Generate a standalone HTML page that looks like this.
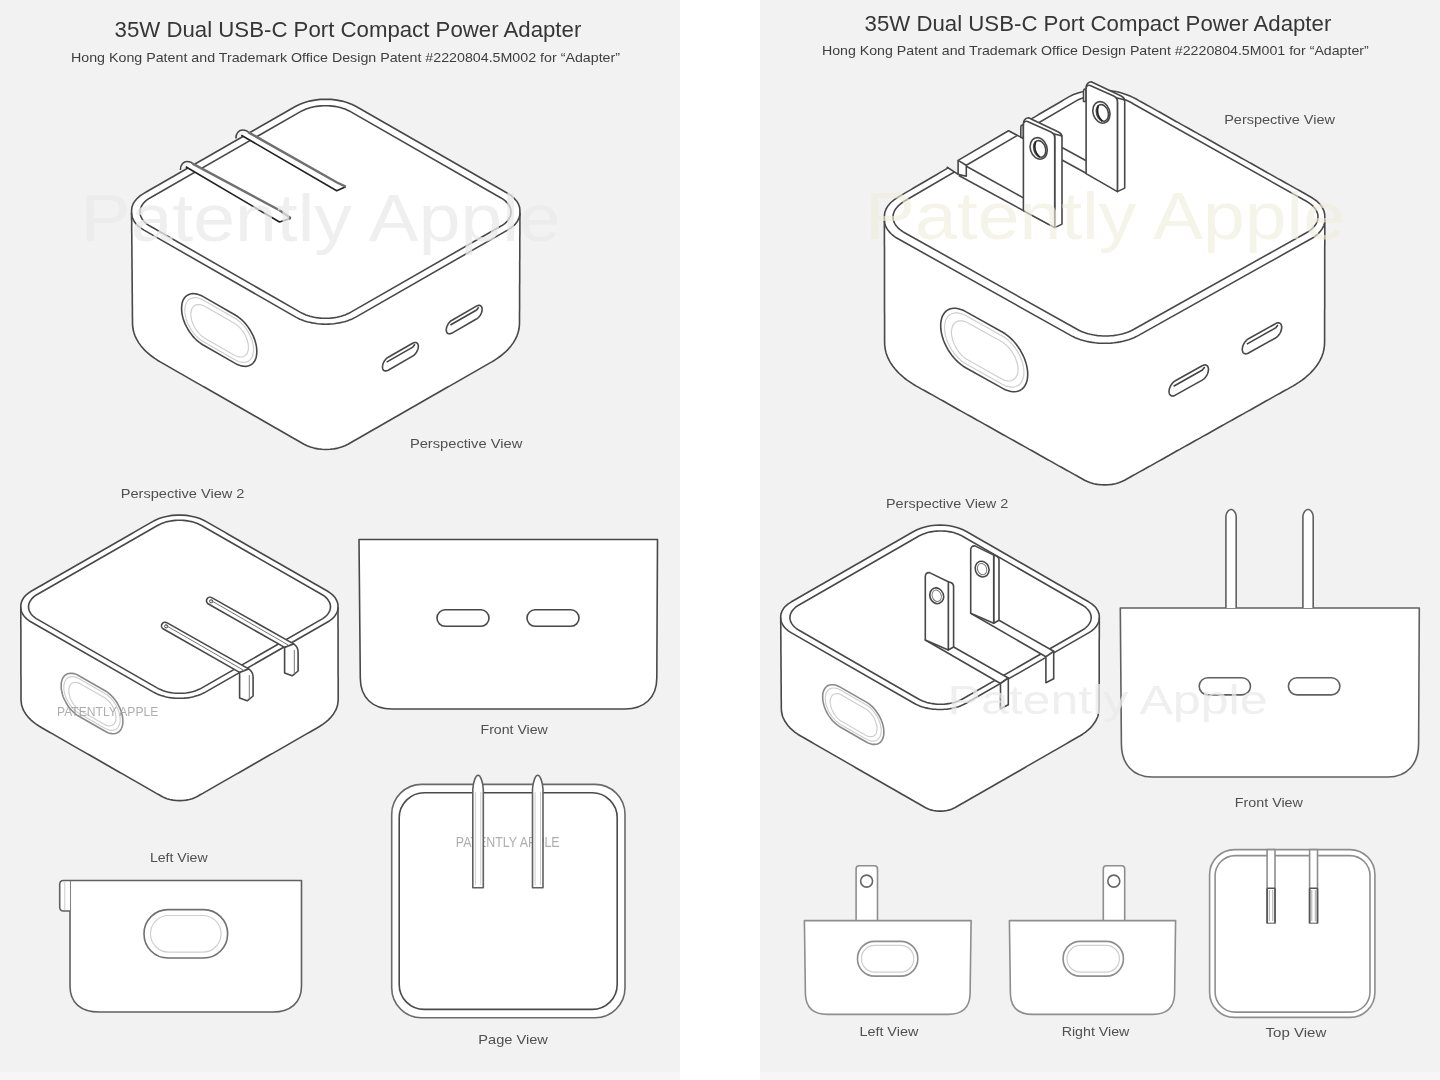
<!DOCTYPE html>
<html><head><meta charset="utf-8"><style>
html,body{margin:0;padding:0;background:#fff;width:1440px;height:1080px;overflow:hidden}
.p{position:absolute;top:0;width:680px;height:1080px;background:linear-gradient(#f2f2f2 0,#f2f2f2 1072px,#f6f6f6 1072px)}
svg{position:absolute;left:0;top:0;will-change:transform}
path,rect,circle,ellipse{fill:none;stroke:#484848;stroke-width:1.6;stroke-linejoin:round}
.g2 path,.g2 rect,.g2 circle{stroke:#606060}
.g3 path,.g3 rect,.g3 circle{stroke:#8e8e8e;stroke-width:1.6}
.f{fill:#fff}
.lt{stroke:#cfcfcf!important;stroke-width:1.2!important}
.ol{stroke:#8a8a8a!important}
.tg{stroke:#444;stroke-width:1.6}
.dk{stroke:#222;stroke-width:1.6}
.gr{stroke:#707070;stroke-width:2.4}
.th{stroke:#777;stroke-width:1}
text{font-family:"Liberation Sans",sans-serif;fill:#333}
.h{fill:#363636}
.h2{fill:#3e3e3e}
.l{fill:#505050}
.ws{fill:#9a9a9a;fill-opacity:.8}
.wb{fill:#eaeaea;fill-opacity:.75}
.wy{fill:#eeeedc;fill-opacity:.62}
</style></head><body>
<div class="p" style="left:0"></div><div class="p" style="left:760px"></div>
<svg width="1440" height="1080" viewBox="0 0 1440 1080">
<path class="f" d="M131.6 210.5 L131.9 207.3 L133.0 204.2 L134.8 201.2 L137.3 198.3 L140.3 195.7 L143.9 193.4 L146.6 191.8 L149.2 190.3 L151.8 188.8 L154.4 187.3 L157.1 185.8 L159.7 184.3 L162.3 182.8 L164.9 181.3 L167.5 179.8 L170.1 178.3 L172.8 176.8 L175.4 175.3 L178.0 173.8 L180.6 172.3 L183.2 170.8 L185.8 169.3 L188.5 167.8 L191.1 166.3 L193.7 164.8 L196.3 163.3 L198.9 161.8 L201.5 160.3 L204.2 158.8 L206.8 157.3 L209.4 155.8 L212.0 154.3 L214.6 152.8 L217.2 151.3 L219.9 149.8 L222.5 148.3 L225.1 146.8 L227.7 145.3 L230.3 143.8 L232.9 142.3 L235.6 140.8 L238.2 139.3 L240.8 137.8 L243.4 136.3 L246.0 134.8 L248.6 133.3 L251.3 131.8 L253.9 130.3 L256.5 128.8 L259.1 127.3 L261.7 125.8 L264.3 124.3 L267.0 122.8 L269.6 121.3 L272.2 119.8 L274.8 118.3 L277.4 116.8 L280.0 115.3 L282.7 113.8 L285.3 112.3 L287.9 110.8 L290.5 109.3 L293.1 107.8 L295.8 106.3 L299.9 104.3 L304.6 102.5 L309.5 101.1 L314.8 100.1 L320.2 99.4 L325.8 99.2 L331.3 99.4 L336.7 100.1 L342.0 101.1 L346.9 102.5 L351.6 104.3 L355.7 106.3 L358.4 107.8 L361.0 109.3 L363.6 110.8 L366.2 112.3 L368.8 113.8 L371.5 115.3 L374.1 116.8 L376.7 118.3 L379.3 119.8 L381.9 121.3 L384.5 122.8 L387.2 124.3 L389.8 125.8 L392.4 127.3 L395.0 128.8 L397.6 130.3 L400.2 131.8 L402.9 133.3 L405.5 134.8 L408.1 136.3 L410.7 137.8 L413.3 139.3 L415.9 140.8 L418.6 142.3 L421.2 143.8 L423.8 145.3 L426.4 146.8 L429.0 148.3 L431.6 149.8 L434.3 151.3 L436.9 152.8 L439.5 154.3 L442.1 155.8 L444.7 157.3 L447.3 158.8 L450.0 160.3 L452.6 161.8 L455.2 163.3 L457.8 164.8 L460.4 166.3 L463.0 167.8 L465.7 169.3 L468.3 170.8 L470.9 172.3 L473.5 173.8 L476.1 175.3 L478.7 176.8 L481.4 178.3 L484.0 179.8 L486.6 181.3 L489.2 182.8 L491.8 184.3 L494.4 185.8 L497.1 187.3 L499.7 188.8 L502.3 190.3 L504.9 191.8 L507.6 193.4 L511.2 195.7 L514.2 198.3 L516.7 201.2 L518.5 204.2 L519.6 207.3 L519.9 210.5 L519.9 213.5 L519.9 216.5 L519.9 219.5 L519.9 222.6 L519.9 225.6 L519.9 228.6 L519.9 231.6 L519.9 234.6 L519.8 237.6 L519.8 240.6 L519.8 243.6 L519.8 246.7 L519.8 249.7 L519.8 252.7 L519.8 255.7 L519.8 258.7 L519.7 261.7 L519.7 264.7 L519.7 267.8 L519.7 270.8 L519.7 273.8 L519.7 276.8 L519.7 279.8 L519.7 282.8 L519.6 285.8 L519.6 288.8 L519.6 291.9 L519.6 294.9 L519.6 297.9 L519.6 300.9 L519.6 303.9 L519.6 306.9 L519.6 309.9 L519.5 313.0 L519.5 316.0 L519.5 319.0 L519.5 322.0 L519.4 325.3 L519.0 328.8 L518.2 332.3 L517.0 335.8 L515.4 339.2 L513.4 342.6 L511.0 345.9 L508.3 349.1 L505.2 352.2 L502.3 354.6 L499.9 356.5 L497.3 358.4 L494.6 360.2 L491.8 361.9 L489.1 363.4 L486.5 364.9 L483.9 366.4 L481.3 367.9 L478.7 369.4 L476.1 370.9 L473.5 372.4 L470.8 373.9 L468.2 375.4 L465.6 376.9 L463.0 378.4 L460.4 379.9 L457.8 381.4 L455.2 382.9 L452.5 384.4 L449.9 385.9 L447.3 387.3 L444.7 388.8 L442.1 390.3 L439.5 391.8 L436.9 393.3 L434.2 394.8 L431.6 396.3 L429.0 397.8 L426.4 399.3 L423.8 400.8 L421.2 402.3 L418.6 403.8 L416.0 405.3 L413.3 406.8 L410.7 408.3 L408.1 409.8 L405.5 411.3 L402.9 412.8 L400.3 414.3 L397.7 415.8 L395.0 417.3 L392.4 418.8 L389.8 420.3 L387.2 421.8 L384.6 423.3 L382.0 424.8 L379.4 426.3 L376.8 427.8 L374.1 429.3 L371.5 430.8 L368.9 432.3 L366.3 433.8 L363.7 435.3 L361.1 436.8 L358.5 438.3 L355.8 439.8 L353.2 441.3 L350.6 442.8 L348.0 444.3 L344.9 445.8 L341.6 447.1 L337.9 448.1 L334.0 448.9 L330.1 449.3 L326.0 449.5 L321.9 449.3 L318.0 448.9 L314.1 448.1 L310.4 447.1 L307.1 445.8 L304.0 444.3 L301.4 442.8 L298.8 441.3 L296.2 439.8 L293.5 438.3 L290.9 436.8 L288.3 435.3 L285.7 433.8 L283.1 432.3 L280.5 430.8 L277.9 429.3 L275.2 427.8 L272.6 426.3 L270.0 424.8 L267.4 423.3 L264.8 421.8 L262.2 420.3 L259.6 418.8 L257.0 417.3 L254.3 415.8 L251.7 414.3 L249.1 412.8 L246.5 411.3 L243.9 409.8 L241.3 408.3 L238.7 406.8 L236.0 405.3 L233.4 403.8 L230.8 402.3 L228.2 400.8 L225.6 399.3 L223.0 397.8 L220.4 396.3 L217.8 394.8 L215.1 393.3 L212.5 391.8 L209.9 390.3 L207.3 388.8 L204.7 387.3 L202.1 385.9 L199.5 384.4 L196.8 382.9 L194.2 381.4 L191.6 379.9 L189.0 378.4 L186.4 376.9 L183.8 375.4 L181.2 373.9 L178.5 372.4 L175.9 370.9 L173.3 369.4 L170.7 367.9 L168.1 366.4 L165.5 364.9 L162.9 363.4 L160.2 361.9 L157.4 360.2 L154.7 358.4 L152.1 356.5 L149.7 354.6 L146.8 352.2 L143.7 349.1 L141.0 345.9 L138.6 342.6 L136.6 339.2 L135.0 335.8 L133.8 332.3 L133.0 328.8 L132.6 325.3 L132.5 322.0 L132.5 319.0 L132.4 316.0 L132.4 313.0 L132.4 309.9 L132.4 306.9 L132.3 303.9 L132.3 300.9 L132.3 297.9 L132.3 294.9 L132.2 291.9 L132.2 288.8 L132.2 285.8 L132.2 282.8 L132.1 279.8 L132.1 276.8 L132.1 273.8 L132.1 270.8 L132.0 267.8 L132.0 264.7 L132.0 261.7 L132.0 258.7 L131.9 255.7 L131.9 252.7 L131.9 249.7 L131.9 246.7 L131.8 243.6 L131.8 240.6 L131.8 237.6 L131.8 234.6 L131.7 231.6 L131.7 228.6 L131.7 225.6 L131.7 222.6 L131.6 219.5 L131.6 216.5 L131.6 213.5Z"/>
<path d="M140.0 212.0 L140.1 210.7 L140.3 209.4 L140.7 208.0 L141.2 206.8 L141.9 205.5 L142.7 204.2 L143.6 203.0 L144.7 201.9 L146.0 200.7 L147.3 199.7 L148.8 198.6 L150.4 197.7 L300.5 111.6 L302.2 110.7 L304.0 109.9 L305.9 109.1 L307.8 108.4 L309.9 107.8 L312.0 107.3 L314.1 106.8 L316.3 106.4 L318.6 106.1 L320.9 105.9 L323.2 105.8 L325.5 105.7 L327.8 105.8 L330.1 105.9 L332.4 106.1 L334.7 106.4 L336.9 106.8 L339.0 107.3 L341.1 107.8 L343.2 108.4 L345.1 109.1 L347.0 109.9 L348.8 110.7 L350.5 111.6 L500.6 197.7 L502.2 198.6 L503.7 199.7 L505.0 200.7 L506.3 201.9 L507.4 203.0 L508.3 204.2 L509.1 205.5 L509.8 206.8 L510.3 208.0 L510.7 209.4 L510.9 210.7 L511.0 212.0 L510.9 213.3 L510.7 214.6 L510.3 216.0 L509.8 217.2 L509.1 218.5 L508.3 219.8 L507.4 221.0 L506.3 222.1 L505.0 223.3 L503.7 224.3 L502.2 225.4 L500.6 226.3 L350.5 312.4 L348.8 313.3 L347.0 314.1 L345.1 314.9 L343.2 315.6 L341.1 316.2 L339.0 316.7 L336.9 317.2 L334.7 317.6 L332.4 317.9 L330.1 318.1 L327.8 318.2 L325.5 318.3 L323.2 318.2 L320.9 318.1 L318.6 317.9 L316.3 317.6 L314.1 317.2 L312.0 316.7 L309.9 316.2 L307.8 315.6 L305.9 314.9 L304.0 314.1 L302.2 313.3 L300.5 312.4 L150.4 226.3 L148.8 225.4 L147.3 224.3 L146.0 223.3 L144.7 222.1 L143.6 221.0 L142.7 219.8 L141.9 218.5 L141.2 217.2 L140.7 216.0 L140.3 214.6 L140.1 213.3 L140.0 212.0Z"/>
<path d="M520.0 212.9 L519.9 214.5 L519.6 216.1 L519.1 217.6 L518.5 219.2 L517.7 220.7 L516.7 222.2 L515.6 223.7 L514.3 225.1 L512.8 226.4 L511.2 227.7 L509.4 228.9 L507.5 230.1 L355.8 317.1 L353.7 318.1 L351.6 319.2 L349.3 320.1 L347.0 320.9 L344.5 321.7 L342.0 322.3 L339.4 322.9 L336.7 323.3 L334.0 323.7 L331.3 324.0 L328.5 324.1 L325.8 324.2 L323.0 324.1 L320.2 324.0 L317.5 323.7 L314.8 323.3 L312.1 322.9 L309.5 322.3 L307.0 321.7 L304.5 320.9 L302.2 320.1 L299.9 319.2 L297.8 318.1 L295.8 317.1 L144.0 230.1 L142.1 228.9 L140.3 227.7 L138.7 226.4 L137.2 225.1 L135.9 223.7 L134.8 222.2 L133.8 220.7 L133.0 219.2 L132.4 217.6 L131.9 216.1 L131.6 214.5 L131.6 212.9"/>
<path class="f" d="M235.2 315.0 L237.3 316.3 L239.4 317.9 L241.5 319.6 L243.5 321.5 L245.4 323.6 L247.2 325.9 L248.9 328.3 L250.5 330.8 L251.9 333.3 L253.2 335.9 L254.3 338.6 L255.2 341.2 L255.9 343.9 L256.4 346.4 L256.7 348.9 L256.8 351.4 L256.8 351.8 L256.7 354.0 L256.4 356.2 L255.9 358.2 L255.2 360.0 L254.3 361.6 L253.2 363.0 L251.9 364.2 L250.5 365.1 L248.9 365.8 L247.2 366.2 L245.4 366.4 L243.5 366.3 L241.5 365.9 L239.4 365.3 L237.3 364.5 L235.2 363.4 L203.2 345.0 L201.1 343.7 L199.0 342.1 L196.9 340.4 L194.9 338.5 L193.0 336.4 L191.2 334.1 L189.5 331.7 L187.9 329.2 L186.5 326.7 L185.2 324.1 L184.1 321.4 L183.2 318.8 L182.5 316.1 L182.0 313.6 L181.7 311.1 L181.6 308.6 L181.6 308.2 L181.7 306.0 L182.0 303.8 L182.5 301.8 L183.2 300.0 L184.1 298.4 L185.2 297.0 L186.5 295.8 L187.9 294.9 L189.5 294.2 L191.2 293.8 L193.0 293.6 L194.9 293.7 L196.9 294.1 L199.0 294.7 L201.1 295.5 L203.2 296.6Z"/>
<path class="lt" d="M234.9 318.2 L236.7 319.3 L238.5 320.7 L240.3 322.2 L242.0 323.9 L243.7 325.7 L245.3 327.6 L246.7 329.7 L248.1 331.9 L249.3 334.1 L250.4 336.3 L251.4 338.6 L252.2 340.9 L252.8 343.2 L253.2 345.4 L253.5 347.6 L253.6 349.7 L253.6 349.7 L253.5 351.7 L253.2 353.6 L252.8 355.3 L252.2 356.8 L251.4 358.2 L250.4 359.4 L249.3 360.5 L248.1 361.3 L246.7 361.9 L245.3 362.2 L243.7 362.4 L242.0 362.3 L240.3 362.0 L238.5 361.5 L236.7 360.7 L234.9 359.8 L203.5 341.8 L201.7 340.7 L199.9 339.3 L198.1 337.8 L196.4 336.1 L194.7 334.3 L193.1 332.4 L191.7 330.3 L190.3 328.1 L189.1 325.9 L188.0 323.7 L187.0 321.4 L186.2 319.1 L185.6 316.8 L185.2 314.6 L184.9 312.4 L184.8 310.3 L184.8 310.3 L184.9 308.3 L185.2 306.4 L185.6 304.7 L186.2 303.2 L187.0 301.8 L188.0 300.6 L189.1 299.5 L190.3 298.7 L191.7 298.1 L193.1 297.8 L194.7 297.6 L196.4 297.7 L198.1 298.0 L199.9 298.5 L201.7 299.3 L203.5 300.2Z"/>
<path class="lt" d="M234.0 323.0 L235.5 323.9 L236.9 324.9 L238.2 326.1 L239.6 327.4 L240.8 328.8 L242.1 330.3 L243.2 331.9 L244.2 333.5 L245.2 335.2 L246.0 337.0 L246.7 338.7 L247.4 340.5 L247.8 342.3 L248.2 344.0 L248.4 345.7 L248.4 347.3 L248.4 347.3 L248.4 348.8 L248.2 350.2 L247.8 351.5 L247.4 352.8 L246.7 353.8 L246.0 354.8 L245.2 355.5 L244.2 356.2 L243.2 356.6 L242.1 356.9 L240.8 357.0 L239.6 356.9 L238.2 356.7 L236.9 356.3 L235.5 355.7 L234.0 355.0 L205.2 338.5 L203.8 337.6 L202.4 336.6 L201.1 335.4 L199.7 334.1 L198.5 332.7 L197.2 331.2 L196.1 329.6 L195.1 328.0 L194.1 326.3 L193.3 324.5 L192.6 322.8 L191.9 321.0 L191.5 319.3 L191.1 317.5 L190.9 315.9 L190.8 314.3 L190.8 314.3 L190.9 312.7 L191.1 311.3 L191.5 310.0 L191.9 308.8 L192.6 307.7 L193.3 306.8 L194.1 306.0 L195.1 305.4 L196.1 304.9 L197.2 304.6 L198.5 304.5 L199.7 304.6 L201.1 304.8 L202.4 305.2 L203.8 305.8 L205.2 306.5Z"/>
<path class="f" d="M412.6 343.2 L413.2 343.0 L413.8 342.7 L414.3 342.6 L414.8 342.5 L415.3 342.5 L415.8 342.5 L416.3 342.6 L416.7 342.8 L417.0 343.1 L417.4 343.4 L417.7 343.8 L417.9 344.2 L418.1 344.7 L418.2 345.2 L418.3 345.8 L418.3 346.4 L418.3 346.4 L418.3 347.1 L418.2 347.7 L418.1 348.4 L417.9 349.1 L417.7 349.8 L417.4 350.5 L417.0 351.2 L416.7 351.9 L416.3 352.6 L415.8 353.2 L415.3 353.8 L414.8 354.4 L414.3 354.9 L413.8 355.4 L413.2 355.8 L412.6 356.1 L388.2 370.2 L387.6 370.4 L387.0 370.7 L386.5 370.8 L386.0 370.9 L385.5 370.9 L385.0 370.9 L384.5 370.8 L384.1 370.6 L383.8 370.3 L383.4 370.0 L383.1 369.6 L382.9 369.2 L382.7 368.7 L382.6 368.2 L382.5 367.6 L382.5 367.0 L382.5 367.0 L382.5 366.3 L382.6 365.7 L382.7 365.0 L382.9 364.3 L383.1 363.6 L383.4 362.9 L383.8 362.2 L384.1 361.5 L384.5 360.8 L385.0 360.2 L385.5 359.6 L386.0 359.0 L386.5 358.5 L387.0 358.0 L387.6 357.6 L388.2 357.3Z"/>
<path class="tg" d="M386.6 362.1 L412.8 347.1 L414.9 344.3"/>
<path class="f" d="M476.4 306.1 L477.0 305.9 L477.6 305.6 L478.1 305.5 L478.6 305.4 L479.1 305.4 L479.6 305.4 L480.1 305.5 L480.5 305.7 L480.8 306.0 L481.2 306.3 L481.5 306.7 L481.7 307.1 L481.9 307.6 L482.0 308.1 L482.1 308.7 L482.1 309.3 L482.1 309.3 L482.1 310.0 L482.0 310.6 L481.9 311.3 L481.7 312.0 L481.5 312.7 L481.2 313.4 L480.8 314.1 L480.5 314.8 L480.1 315.5 L479.6 316.1 L479.1 316.7 L478.6 317.3 L478.1 317.8 L477.6 318.3 L477.0 318.7 L476.4 319.0 L452.0 333.1 L451.4 333.3 L450.8 333.6 L450.3 333.7 L449.8 333.8 L449.3 333.8 L448.8 333.8 L448.3 333.7 L447.9 333.5 L447.6 333.2 L447.2 332.9 L446.9 332.5 L446.7 332.1 L446.5 331.6 L446.4 331.1 L446.3 330.5 L446.3 329.9 L446.3 329.9 L446.3 329.2 L446.4 328.6 L446.5 327.9 L446.7 327.2 L446.9 326.5 L447.2 325.8 L447.6 325.1 L447.9 324.4 L448.3 323.7 L448.8 323.1 L449.3 322.5 L449.8 321.9 L450.3 321.4 L450.8 320.9 L451.4 320.5 L452.0 320.2Z"/>
<path class="tg" d="M450.4 325.0 L476.6 310.0 L478.7 307.2"/>
<path class="f" d="M20.8 605.9 L21.1 603.2 L22.1 600.5 L23.6 597.8 L25.7 595.4 L28.4 593.1 L31.5 591.0 L34.2 589.5 L36.8 588.0 L39.4 586.5 L42.1 585.0 L44.7 583.5 L47.3 582.0 L49.9 580.5 L52.5 579.0 L55.1 577.5 L57.8 576.0 L60.4 574.5 L63.0 573.0 L65.6 571.5 L68.3 570.0 L70.9 568.5 L73.5 567.0 L76.1 565.5 L78.7 564.0 L81.4 562.5 L84.0 561.0 L86.6 559.5 L89.2 558.0 L91.8 556.5 L94.5 555.0 L97.1 553.5 L99.7 552.0 L102.3 550.5 L104.9 549.0 L107.6 547.5 L110.2 546.0 L112.8 544.5 L115.4 543.0 L118.0 541.5 L120.7 540.0 L123.3 538.5 L125.9 537.0 L128.5 535.5 L131.1 534.0 L133.8 532.4 L136.4 530.9 L139.0 529.4 L141.6 527.9 L144.2 526.4 L146.8 524.9 L149.5 523.4 L152.1 521.9 L155.2 520.3 L159.0 518.6 L163.1 517.2 L167.6 516.2 L172.2 515.4 L177.0 515.1 L181.8 515.1 L186.6 515.4 L191.2 516.2 L195.7 517.2 L199.8 518.6 L203.6 520.3 L206.7 521.9 L209.3 523.4 L211.9 524.9 L214.6 526.4 L217.2 527.9 L219.8 529.4 L222.4 530.9 L225.1 532.4 L227.7 534.0 L230.3 535.5 L232.9 537.0 L235.5 538.5 L238.2 540.0 L240.8 541.5 L243.4 543.0 L246.0 544.5 L248.6 546.0 L251.2 547.5 L253.9 549.0 L256.5 550.5 L259.1 552.0 L261.7 553.5 L264.3 555.0 L267.0 556.5 L269.6 558.0 L272.2 559.5 L274.8 561.0 L277.5 562.5 L280.1 564.0 L282.7 565.5 L285.3 567.0 L287.9 568.5 L290.6 570.0 L293.2 571.5 L295.8 573.0 L298.4 574.5 L301.0 576.0 L303.6 577.5 L306.3 579.0 L308.9 580.5 L311.5 582.0 L314.1 583.5 L316.8 585.0 L319.4 586.5 L322.0 588.0 L324.6 589.5 L327.3 591.0 L330.4 593.1 L333.1 595.4 L335.2 597.8 L336.7 600.5 L337.7 603.2 L338.0 605.9 L338.0 608.9 L338.0 612.0 L338.0 615.0 L338.0 618.0 L338.0 621.1 L338.0 624.1 L338.0 627.1 L338.1 630.2 L338.1 633.2 L338.1 636.3 L338.1 639.3 L338.1 642.3 L338.1 645.4 L338.1 648.4 L338.1 651.4 L338.1 654.5 L338.1 657.5 L338.1 660.5 L338.1 663.6 L338.1 666.6 L338.1 669.6 L338.1 672.7 L338.1 675.7 L338.2 678.8 L338.2 681.8 L338.2 684.8 L338.2 687.9 L338.2 690.9 L338.2 693.9 L338.2 697.0 L338.2 700.1 L337.6 705.0 L335.9 709.9 L333.1 714.6 L330.3 717.9 L328.1 720.1 L325.7 722.2 L323.1 724.1 L320.2 726.0 L317.4 727.7 L314.8 729.2 L312.2 730.7 L309.6 732.2 L307.0 733.6 L304.4 735.1 L301.8 736.6 L299.2 738.1 L296.6 739.6 L294.0 741.1 L291.4 742.6 L288.8 744.1 L286.2 745.6 L283.6 747.1 L281.0 748.6 L278.4 750.1 L275.7 751.6 L273.1 753.1 L270.5 754.5 L267.9 756.0 L265.3 757.5 L262.7 759.0 L260.1 760.5 L257.5 762.0 L254.9 763.5 L252.3 765.0 L249.7 766.5 L247.1 768.0 L244.5 769.5 L241.9 771.0 L239.3 772.5 L236.7 773.9 L234.1 775.4 L231.5 776.9 L228.9 778.4 L226.3 779.9 L223.6 781.4 L221.0 782.9 L218.4 784.4 L215.8 785.9 L213.2 787.4 L210.6 788.9 L208.0 790.4 L205.4 791.9 L202.8 793.4 L200.2 794.8 L197.6 796.3 L195.1 797.6 L192.3 798.7 L189.3 799.5 L186.2 800.1 L182.9 800.5 L179.6 800.6 L176.3 800.5 L173.0 800.1 L169.9 799.5 L166.9 798.7 L164.1 797.6 L161.6 796.3 L159.0 794.8 L156.4 793.4 L153.8 791.9 L151.2 790.4 L148.6 788.9 L146.0 787.4 L143.4 785.9 L140.8 784.4 L138.2 782.9 L135.6 781.4 L132.9 779.9 L130.3 778.4 L127.7 776.9 L125.1 775.4 L122.5 773.9 L119.9 772.5 L117.3 771.0 L114.7 769.5 L112.1 768.0 L109.5 766.5 L106.9 765.0 L104.3 763.5 L101.7 762.0 L99.1 760.5 L96.5 759.0 L93.9 757.5 L91.3 756.0 L88.7 754.5 L86.1 753.1 L83.5 751.6 L80.8 750.1 L78.2 748.6 L75.6 747.1 L73.0 745.6 L70.4 744.1 L67.8 742.6 L65.2 741.1 L62.6 739.6 L60.0 738.1 L57.4 736.6 L54.8 735.1 L52.2 733.6 L49.6 732.2 L47.0 730.7 L44.4 729.2 L41.8 727.7 L39.0 726.0 L36.1 724.1 L33.5 722.2 L31.1 720.1 L28.9 717.9 L26.1 714.6 L23.3 709.9 L21.6 705.0 L21.0 700.1 L21.0 697.0 L21.0 693.9 L21.0 690.9 L21.0 687.9 L21.0 684.8 L21.0 681.8 L21.0 678.8 L20.9 675.7 L20.9 672.7 L20.9 669.6 L20.9 666.6 L20.9 663.6 L20.9 660.5 L20.9 657.5 L20.9 654.5 L20.9 651.4 L20.9 648.4 L20.9 645.4 L20.9 642.3 L20.9 639.3 L20.9 636.3 L20.9 633.2 L20.9 630.2 L20.8 627.1 L20.8 624.1 L20.8 621.1 L20.8 618.0 L20.8 615.0 L20.8 612.0 L20.8 608.9Z"/>
<path d="M28.5 606.8 L28.6 605.6 L28.8 604.5 L29.1 603.3 L29.6 602.2 L30.2 601.1 L30.9 600.0 L31.7 598.9 L32.7 597.9 L33.7 596.9 L34.9 595.9 L36.2 595.0 L37.6 594.2 L157.5 525.5 L159.0 524.7 L160.6 524.0 L162.2 523.3 L163.9 522.7 L165.7 522.1 L167.6 521.6 L169.5 521.2 L171.4 520.9 L173.4 520.6 L175.4 520.4 L177.5 520.3 L179.5 520.3 L181.5 520.3 L183.6 520.4 L185.6 520.6 L187.6 520.9 L189.5 521.2 L191.4 521.6 L193.3 522.1 L195.1 522.7 L196.8 523.3 L198.4 524.0 L200.0 524.7 L201.5 525.5 L321.4 594.2 L322.8 595.0 L324.1 595.9 L325.3 596.9 L326.3 597.9 L327.3 598.9 L328.1 600.0 L328.8 601.1 L329.4 602.2 L329.9 603.3 L330.2 604.5 L330.4 605.6 L330.5 606.8 L330.4 608.0 L330.2 609.1 L329.9 610.3 L329.4 611.4 L328.8 612.5 L328.1 613.6 L327.3 614.7 L326.3 615.7 L325.3 616.7 L324.1 617.7 L322.8 618.6 L321.4 619.4 L201.5 688.1 L200.0 688.9 L198.4 689.6 L196.8 690.3 L195.1 690.9 L193.3 691.5 L191.4 692.0 L189.5 692.4 L187.6 692.7 L185.6 693.0 L183.6 693.2 L181.5 693.3 L179.5 693.3 L177.5 693.3 L175.4 693.2 L173.4 693.0 L171.4 692.7 L169.5 692.4 L167.6 692.0 L165.7 691.5 L163.9 690.9 L162.2 690.3 L160.6 689.6 L159.0 688.9 L157.5 688.1 L37.6 619.4 L36.2 618.6 L34.9 617.7 L33.7 616.7 L32.7 615.7 L31.7 614.7 L30.9 613.6 L30.2 612.5 L29.6 611.4 L29.1 610.3 L28.8 609.1 L28.6 608.0 L28.5 606.8Z"/>
<path d="M338.0 607.4 L337.9 608.8 L337.7 610.2 L337.3 611.5 L336.7 612.9 L336.0 614.2 L335.2 615.5 L334.2 616.7 L333.1 617.9 L331.8 619.1 L330.4 620.2 L328.9 621.3 L327.2 622.3 L205.4 692.1 L203.6 693.0 L201.8 693.9 L199.8 694.7 L197.8 695.5 L195.7 696.1 L193.5 696.7 L191.2 697.2 L188.9 697.6 L186.6 697.9 L184.2 698.1 L181.8 698.2 L179.4 698.3 L177.0 698.2 L174.6 698.1 L172.2 697.9 L169.9 697.6 L167.6 697.2 L165.3 696.7 L163.1 696.1 L161.0 695.5 L159.0 694.7 L157.0 693.9 L155.2 693.0 L153.4 692.1 L31.6 622.3 L29.9 621.3 L28.4 620.2 L27.0 619.1 L25.7 617.9 L24.6 616.7 L23.6 615.5 L22.8 614.2 L22.1 612.9 L21.5 611.5 L21.1 610.2 L20.9 608.8 L20.8 607.4"/>
<path class="f ol" d="M105.1 690.8 L106.9 691.9 L108.6 693.1 L110.3 694.6 L111.9 696.2 L113.5 697.9 L115.0 699.8 L116.4 701.8 L117.7 703.8 L118.8 706.0 L119.9 708.1 L120.8 710.3 L121.5 712.5 L122.1 714.7 L122.5 716.9 L122.8 719.0 L122.8 721.0 L122.8 721.3 L122.8 723.3 L122.5 725.1 L122.1 726.7 L121.5 728.3 L120.8 729.6 L119.9 730.8 L118.8 731.8 L117.7 732.6 L116.4 733.2 L115.0 733.5 L113.5 733.7 L111.9 733.6 L110.3 733.4 L108.6 732.9 L106.9 732.2 L105.1 731.3 L78.9 716.2 L77.1 715.1 L75.4 713.9 L73.7 712.4 L72.1 710.8 L70.5 709.1 L69.0 707.2 L67.6 705.2 L66.3 703.2 L65.2 701.0 L64.1 698.9 L63.2 696.7 L62.5 694.5 L61.9 692.3 L61.5 690.1 L61.2 688.0 L61.2 686.0 L61.2 685.7 L61.2 683.7 L61.5 681.9 L61.9 680.3 L62.5 678.7 L63.2 677.4 L64.1 676.2 L65.2 675.2 L66.3 674.4 L67.6 673.8 L69.0 673.5 L70.5 673.3 L72.1 673.4 L73.7 673.6 L75.4 674.1 L77.1 674.8 L78.9 675.7Z"/>
<path class="lt" d="M104.8 693.4 L106.3 694.4 L107.8 695.5 L109.3 696.8 L110.7 698.1 L112.1 699.7 L113.4 701.3 L114.6 703.0 L115.7 704.8 L116.7 706.6 L117.6 708.5 L118.4 710.4 L119.0 712.3 L119.5 714.2 L119.9 716.1 L120.1 717.9 L120.2 719.7 L120.2 719.7 L120.1 721.3 L119.9 722.9 L119.5 724.3 L119.0 725.6 L118.4 726.8 L117.6 727.8 L116.7 728.7 L115.7 729.4 L114.6 729.9 L113.4 730.2 L112.1 730.4 L110.7 730.3 L109.3 730.1 L107.8 729.6 L106.3 729.0 L104.8 728.3 L79.2 713.6 L77.7 712.6 L76.2 711.5 L74.7 710.2 L73.3 708.9 L71.9 707.3 L70.6 705.7 L69.4 704.0 L68.3 702.2 L67.3 700.4 L66.4 698.5 L65.6 696.6 L65.0 694.7 L64.5 692.8 L64.1 690.9 L63.9 689.1 L63.8 687.3 L63.8 687.3 L63.9 685.7 L64.1 684.1 L64.5 682.7 L65.0 681.4 L65.6 680.2 L66.4 679.2 L67.3 678.3 L68.3 677.6 L69.4 677.1 L70.6 676.8 L71.9 676.6 L73.3 676.7 L74.7 676.9 L76.2 677.4 L77.7 678.0 L79.2 678.7Z"/>
<path class="lt" d="M104.2 697.5 L105.3 698.2 L106.5 699.1 L107.6 700.0 L108.7 701.1 L109.7 702.3 L110.7 703.5 L111.7 704.8 L112.5 706.2 L113.3 707.6 L114.0 709.1 L114.6 710.6 L115.1 712.0 L115.5 713.5 L115.8 714.9 L115.9 716.3 L116.0 717.7 L116.0 717.7 L115.9 718.9 L115.8 720.1 L115.5 721.3 L115.1 722.3 L114.6 723.2 L114.0 724.0 L113.3 724.6 L112.5 725.1 L111.7 725.5 L110.7 725.8 L109.7 725.9 L108.7 725.9 L107.6 725.7 L106.5 725.4 L105.3 724.9 L104.2 724.3 L80.6 710.8 L79.4 710.0 L78.3 709.2 L77.1 708.2 L76.0 707.1 L75.0 706.0 L74.0 704.7 L73.1 703.4 L72.2 702.0 L71.4 700.6 L70.7 699.2 L70.1 697.7 L69.7 696.2 L69.3 694.8 L69.0 693.3 L68.8 691.9 L68.8 690.6 L68.8 690.6 L68.8 689.3 L69.0 688.1 L69.3 687.0 L69.7 686.0 L70.1 685.1 L70.7 684.3 L71.4 683.6 L72.2 683.1 L73.1 682.7 L74.0 682.5 L75.0 682.4 L76.0 682.4 L77.1 682.6 L78.3 682.9 L79.4 683.4 L80.6 684.0Z"/>
<path class="f" d="M884.4 216.0 L884.8 212.5 L886.1 209.0 L888.1 205.7 L890.9 202.5 L894.4 199.6 L898.4 197.0 L901.1 195.4 L903.7 193.9 L906.2 192.4 L908.8 190.9 L911.4 189.4 L914.0 187.8 L916.6 186.3 L919.2 184.8 L921.8 183.3 L924.4 181.8 L927.0 180.2 L929.5 178.7 L932.1 177.2 L934.7 175.7 L937.3 174.2 L939.9 172.6 L942.5 171.1 L945.1 169.6 L947.7 168.1 L950.2 166.5 L952.8 165.0 L955.4 163.5 L958.0 162.0 L960.6 160.5 L963.2 158.9 L965.8 157.4 L968.4 155.9 L971.0 154.4 L973.5 152.9 L976.1 151.3 L978.7 149.8 L981.3 148.3 L983.9 146.8 L986.5 145.3 L989.1 143.7 L991.7 142.2 L994.2 140.7 L996.8 139.2 L999.4 137.7 L1002.0 136.1 L1004.6 134.6 L1007.2 133.1 L1009.8 131.6 L1012.4 130.1 L1015.0 128.5 L1017.5 127.0 L1020.1 125.5 L1022.7 124.0 L1025.3 122.5 L1027.9 120.9 L1030.5 119.4 L1033.1 117.9 L1035.7 116.4 L1038.2 114.8 L1040.8 113.3 L1043.4 111.8 L1046.0 110.3 L1048.6 108.8 L1051.2 107.2 L1053.8 105.7 L1056.4 104.2 L1059.0 102.7 L1061.5 101.2 L1064.1 99.6 L1066.7 98.1 L1069.3 96.6 L1072.9 94.8 L1077.9 92.9 L1083.3 91.4 L1089.0 90.4 L1092.2 90.1 L1095.2 89.9 L1098.3 89.8 L1101.5 89.9 L1104.6 90.0 L1107.7 90.3 L1110.9 90.7 L1114.0 91.2 L1117.0 91.8 L1120.1 92.6 L1123.0 93.4 L1126.0 94.4 L1131.3 96.6 L1136.2 99.0 L1138.9 100.6 L1141.5 102.0 L1144.2 103.5 L1146.8 105.0 L1149.4 106.4 L1152.0 107.9 L1154.7 109.4 L1157.3 110.9 L1159.9 112.3 L1162.5 113.8 L1165.2 115.3 L1167.8 116.7 L1170.4 118.2 L1173.0 119.7 L1175.6 121.2 L1178.3 122.6 L1180.9 124.1 L1183.5 125.6 L1186.1 127.0 L1188.8 128.5 L1191.4 130.0 L1194.0 131.5 L1196.6 132.9 L1199.2 134.4 L1201.9 135.9 L1204.5 137.3 L1207.1 138.8 L1209.7 140.3 L1212.4 141.8 L1215.0 143.2 L1217.6 144.7 L1220.2 146.2 L1222.9 147.7 L1225.5 149.1 L1228.1 150.6 L1230.7 152.1 L1233.3 153.5 L1236.0 155.0 L1238.6 156.5 L1241.2 158.0 L1243.8 159.4 L1246.5 160.9 L1249.1 162.4 L1251.7 163.8 L1254.3 165.3 L1257.0 166.8 L1259.6 168.3 L1262.2 169.7 L1264.8 171.2 L1267.4 172.7 L1270.1 174.1 L1272.7 175.6 L1275.3 177.1 L1277.9 178.6 L1280.6 180.0 L1283.2 181.5 L1285.8 183.0 L1288.4 184.4 L1291.0 185.9 L1293.7 187.4 L1296.3 188.9 L1298.9 190.3 L1301.5 191.8 L1304.2 193.3 L1306.8 194.8 L1309.4 196.2 L1312.8 198.3 L1316.7 201.0 L1319.8 204.1 L1322.2 207.3 L1323.9 210.8 L1324.7 214.2 L1324.8 217.5 L1324.8 220.5 L1324.8 223.6 L1324.8 226.6 L1324.8 229.6 L1324.8 232.6 L1324.8 235.7 L1324.8 238.7 L1324.8 241.7 L1324.8 244.7 L1324.7 247.8 L1324.7 250.8 L1324.7 253.8 L1324.7 256.8 L1324.7 259.8 L1324.7 262.9 L1324.7 265.9 L1324.7 268.9 L1324.7 271.9 L1324.7 275.0 L1324.7 278.0 L1324.7 281.0 L1324.7 284.0 L1324.7 287.1 L1324.7 290.1 L1324.7 293.1 L1324.7 296.1 L1324.7 299.2 L1324.7 302.2 L1324.7 305.2 L1324.7 308.2 L1324.6 311.2 L1324.6 314.3 L1324.6 317.3 L1324.6 320.3 L1324.6 323.3 L1324.6 326.4 L1324.6 329.4 L1324.6 332.4 L1324.6 335.4 L1324.6 338.5 L1324.6 341.5 L1324.5 345.0 L1324.0 349.0 L1323.1 352.9 L1321.7 356.8 L1319.9 360.7 L1318.0 363.8 L1316.3 366.3 L1314.3 368.8 L1312.2 371.1 L1310.0 373.5 L1307.5 375.7 L1304.9 378.0 L1302.1 380.1 L1299.1 382.2 L1296.0 384.2 L1292.8 386.1 L1290.1 387.6 L1287.5 389.1 L1284.8 390.5 L1282.2 392.0 L1279.6 393.5 L1276.9 394.9 L1274.3 396.4 L1271.7 397.9 L1269.1 399.4 L1266.4 400.8 L1263.8 402.3 L1261.2 403.8 L1258.6 405.2 L1255.9 406.7 L1253.3 408.2 L1250.7 409.7 L1248.1 411.1 L1245.4 412.6 L1242.8 414.1 L1240.2 415.5 L1237.5 417.0 L1234.9 418.5 L1232.3 420.0 L1229.7 421.4 L1227.0 422.9 L1224.4 424.4 L1221.8 425.8 L1219.2 427.3 L1216.5 428.8 L1213.9 430.2 L1211.3 431.7 L1208.7 433.2 L1206.0 434.7 L1203.4 436.1 L1200.8 437.6 L1198.1 439.1 L1195.5 440.5 L1192.9 442.0 L1190.3 443.5 L1187.6 445.0 L1185.0 446.4 L1182.4 447.9 L1179.8 449.4 L1177.1 450.8 L1174.5 452.3 L1171.9 453.8 L1169.3 455.3 L1166.6 456.7 L1164.0 458.2 L1161.4 459.7 L1158.7 461.1 L1156.1 462.6 L1153.5 464.1 L1150.9 465.6 L1148.2 467.0 L1145.6 468.5 L1143.0 470.0 L1140.4 471.4 L1137.7 472.9 L1135.1 474.4 L1132.5 475.8 L1129.9 477.3 L1127.2 478.8 L1124.6 480.3 L1121.8 481.6 L1118.7 482.8 L1115.4 483.7 L1111.9 484.4 L1108.3 484.8 L1104.6 484.9 L1100.9 484.8 L1097.3 484.4 L1093.8 483.7 L1090.5 482.8 L1087.4 481.6 L1084.6 480.3 L1082.0 478.8 L1079.3 477.3 L1076.7 475.8 L1074.1 474.4 L1071.5 472.9 L1068.8 471.4 L1066.2 470.0 L1063.6 468.5 L1061.0 467.0 L1058.3 465.6 L1055.7 464.1 L1053.1 462.6 L1050.5 461.1 L1047.8 459.7 L1045.2 458.2 L1042.6 456.7 L1039.9 455.3 L1037.3 453.8 L1034.7 452.3 L1032.1 450.8 L1029.4 449.4 L1026.8 447.9 L1024.2 446.4 L1021.6 445.0 L1018.9 443.5 L1016.3 442.0 L1013.7 440.5 L1011.1 439.1 L1008.4 437.6 L1005.8 436.1 L1003.2 434.7 L1000.5 433.2 L997.9 431.7 L995.3 430.2 L992.7 428.8 L990.0 427.3 L987.4 425.8 L984.8 424.4 L982.2 422.9 L979.5 421.4 L976.9 420.0 L974.3 418.5 L971.7 417.0 L969.0 415.5 L966.4 414.1 L963.8 412.6 L961.1 411.1 L958.5 409.7 L955.9 408.2 L953.3 406.7 L950.6 405.2 L948.0 403.8 L945.4 402.3 L942.8 400.8 L940.1 399.4 L937.5 397.9 L934.9 396.4 L932.3 394.9 L929.6 393.5 L927.0 392.0 L924.4 390.5 L921.7 389.1 L919.1 387.6 L916.4 386.1 L913.2 384.2 L910.1 382.2 L907.1 380.1 L904.3 378.0 L901.7 375.7 L899.2 373.5 L897.0 371.1 L894.9 368.8 L892.9 366.3 L891.2 363.8 L889.3 360.7 L887.5 356.8 L886.1 352.9 L885.2 349.0 L884.7 345.0 L884.6 341.5 L884.6 338.5 L884.6 335.4 L884.6 332.4 L884.6 329.4 L884.6 326.4 L884.6 323.3 L884.6 320.3 L884.6 317.3 L884.6 314.3 L884.5 311.2 L884.5 308.2 L884.5 305.2 L884.5 302.2 L884.5 299.2 L884.5 296.1 L884.5 293.1 L884.5 290.1 L884.5 287.1 L884.5 284.0 L884.5 281.0 L884.5 278.0 L884.5 275.0 L884.5 271.9 L884.5 268.9 L884.5 265.9 L884.5 262.9 L884.5 259.8 L884.5 256.8 L884.5 253.8 L884.5 250.8 L884.5 247.8 L884.4 244.7 L884.4 241.7 L884.4 238.7 L884.4 235.7 L884.4 232.6 L884.4 229.6 L884.4 226.6 L884.4 223.6 L884.4 220.5 L884.4 217.5Z"/>
<path d="M893.0 217.0 L893.1 215.5 L893.3 214.1 L893.8 212.7 L894.3 211.3 L895.1 209.9 L896.0 208.5 L897.1 207.2 L898.3 205.9 L899.7 204.7 L901.2 203.4 L902.8 202.2 L904.6 201.0 L1077.5 100.1 L1079.4 99.2 L1081.4 98.4 L1083.5 97.7 L1085.7 97.1 L1088.0 96.5 L1090.3 96.1 L1092.8 95.7 L1095.3 95.4 L1097.8 95.3 L1100.3 95.2 L1102.9 95.2 L1105.5 95.4 L1108.1 95.6 L1110.7 95.9 L1113.2 96.4 L1115.7 96.9 L1118.2 97.5 L1120.7 98.2 L1123.0 99.0 L1125.3 99.8 L1127.5 100.8 L1129.6 101.8 L1131.6 102.8 L1133.5 104.0 L1306.4 201.3 L1308.2 202.4 L1309.8 203.5 L1311.3 204.7 L1312.7 205.9 L1313.9 207.2 L1315.0 208.5 L1315.9 209.9 L1316.7 211.3 L1317.2 212.7 L1317.7 214.1 L1317.9 215.5 L1318.0 217.0 L1317.9 218.5 L1317.7 219.9 L1317.2 221.3 L1316.7 222.7 L1315.9 224.1 L1315.0 225.5 L1313.9 226.8 L1312.7 228.1 L1311.3 229.3 L1309.8 230.5 L1308.2 231.6 L1306.4 232.7 L1133.5 329.5 L1131.6 330.5 L1129.6 331.4 L1127.5 332.3 L1125.3 333.0 L1123.0 333.7 L1120.7 334.3 L1118.2 334.8 L1115.7 335.2 L1113.2 335.6 L1110.7 335.8 L1108.1 336.0 L1105.5 336.0 L1102.9 336.0 L1100.3 335.8 L1097.8 335.6 L1095.3 335.2 L1092.8 334.8 L1090.3 334.3 L1088.0 333.7 L1085.7 333.0 L1083.5 332.3 L1081.4 331.4 L1079.4 330.5 L1077.5 329.5 L904.6 232.7 L902.8 231.6 L901.2 230.5 L899.7 229.3 L898.3 228.1 L897.1 226.8 L896.0 225.5 L895.1 224.1 L894.3 222.7 L893.8 221.3 L893.3 219.9 L893.1 218.5 L893.0 217.0Z"/>
<path d="M1324.8 220.0 L1324.7 221.8 L1324.4 223.5 L1323.9 225.3 L1323.2 227.0 L1322.2 228.7 L1321.1 230.3 L1319.8 231.9 L1318.4 233.5 L1316.7 235.0 L1314.9 236.4 L1312.9 237.8 L1310.7 239.0 L1138.6 335.4 L1136.3 336.6 L1133.9 337.7 L1131.3 338.8 L1128.6 339.7 L1125.9 340.5 L1123.0 341.3 L1120.1 341.9 L1117.0 342.4 L1114.0 342.8 L1110.9 343.1 L1107.7 343.3 L1104.6 343.3 L1101.5 343.3 L1098.3 343.1 L1095.2 342.8 L1092.2 342.4 L1089.1 341.9 L1086.2 341.3 L1083.3 340.5 L1080.6 339.7 L1077.9 338.8 L1075.3 337.7 L1072.9 336.6 L1070.6 335.4 L898.5 239.0 L896.3 237.8 L894.3 236.4 L892.5 235.0 L890.8 233.5 L889.4 231.9 L888.1 230.3 L887.0 228.7 L886.0 227.0 L885.3 225.3 L884.8 223.5 L884.5 221.8 L884.4 220.0"/>
<path class="f" d="M1002.7 332.3 L1005.2 333.8 L1007.6 335.6 L1010.0 337.6 L1012.3 339.8 L1014.5 342.2 L1016.6 344.8 L1018.5 347.5 L1020.4 350.3 L1022.0 353.3 L1023.5 356.3 L1024.7 359.3 L1025.8 362.4 L1026.6 365.4 L1027.2 368.4 L1027.6 371.3 L1027.7 374.1 L1027.7 374.6 L1027.6 377.2 L1027.2 379.7 L1026.6 382.1 L1025.8 384.2 L1024.7 386.0 L1023.5 387.7 L1022.0 389.1 L1020.4 390.2 L1018.5 391.0 L1016.6 391.5 L1014.5 391.7 L1012.3 391.7 L1010.0 391.3 L1007.6 390.6 L1005.2 389.7 L1002.7 388.4 L965.7 367.7 L963.2 366.2 L960.8 364.4 L958.4 362.4 L956.1 360.2 L953.9 357.8 L951.8 355.2 L949.9 352.5 L948.0 349.7 L946.4 346.7 L944.9 343.7 L943.7 340.7 L942.6 337.6 L941.8 334.6 L941.2 331.6 L940.8 328.7 L940.7 325.9 L940.7 325.4 L940.8 322.8 L941.2 320.3 L941.8 317.9 L942.6 315.8 L943.7 314.0 L944.9 312.3 L946.4 310.9 L948.0 309.8 L949.9 309.0 L951.8 308.5 L953.9 308.3 L956.1 308.3 L958.4 308.7 L960.8 309.4 L963.2 310.3 L965.7 311.6Z"/>
<path class="lt" d="M1002.3 336.0 L1004.4 337.3 L1006.5 338.8 L1008.6 340.6 L1010.6 342.5 L1012.5 344.6 L1014.3 346.8 L1016.0 349.2 L1017.6 351.6 L1019.0 354.2 L1020.3 356.8 L1021.4 359.4 L1022.3 362.1 L1023.0 364.7 L1023.5 367.3 L1023.8 369.8 L1023.9 372.2 L1023.9 372.2 L1023.8 374.6 L1023.5 376.7 L1023.0 378.7 L1022.3 380.6 L1021.4 382.2 L1020.3 383.6 L1019.0 384.8 L1017.6 385.8 L1016.0 386.5 L1014.3 386.9 L1012.5 387.1 L1010.6 387.1 L1008.6 386.7 L1006.5 386.2 L1004.4 385.3 L1002.3 384.3 L966.1 364.0 L964.0 362.7 L961.9 361.2 L959.8 359.4 L957.8 357.5 L955.9 355.4 L954.1 353.2 L952.4 350.8 L950.8 348.4 L949.4 345.8 L948.1 343.2 L947.0 340.6 L946.1 337.9 L945.4 335.3 L944.9 332.7 L944.6 330.2 L944.5 327.8 L944.5 327.8 L944.6 325.4 L944.9 323.3 L945.4 321.3 L946.1 319.4 L947.0 317.8 L948.1 316.4 L949.4 315.2 L950.8 314.2 L952.4 313.5 L954.1 313.1 L955.9 312.9 L957.8 312.9 L959.8 313.3 L961.9 313.8 L964.0 314.7 L966.1 315.7Z"/>
<path class="lt" d="M1001.4 341.6 L1003.0 342.6 L1004.6 343.8 L1006.2 345.1 L1007.7 346.6 L1009.2 348.2 L1010.6 349.9 L1011.9 351.8 L1013.1 353.7 L1014.2 355.6 L1015.2 357.6 L1016.0 359.7 L1016.7 361.7 L1017.3 363.7 L1017.7 365.7 L1017.9 367.6 L1018.0 369.5 L1018.0 369.5 L1017.9 371.3 L1017.7 372.9 L1017.3 374.5 L1016.7 375.9 L1016.0 377.2 L1015.2 378.2 L1014.2 379.2 L1013.1 379.9 L1011.9 380.4 L1010.6 380.8 L1009.2 381.0 L1007.7 380.9 L1006.2 380.7 L1004.6 380.2 L1003.0 379.6 L1001.4 378.7 L968.1 360.1 L966.4 359.1 L964.8 357.9 L963.2 356.6 L961.7 355.1 L960.2 353.5 L958.8 351.8 L957.5 350.0 L956.3 348.1 L955.2 346.1 L954.2 344.1 L953.4 342.1 L952.7 340.0 L952.2 338.0 L951.8 336.0 L951.5 334.1 L951.4 332.2 L951.4 332.2 L951.5 330.5 L951.8 328.8 L952.2 327.2 L952.7 325.8 L953.4 324.6 L954.2 323.5 L955.2 322.6 L956.3 321.8 L957.5 321.3 L958.8 320.9 L960.2 320.8 L961.7 320.8 L963.2 321.1 L964.8 321.5 L966.4 322.2 L968.1 323.0Z"/>
<path class="f" d="M1202.2 365.8 L1202.8 365.4 L1203.4 365.2 L1204.0 365.0 L1204.6 365.0 L1205.2 364.9 L1205.7 365.0 L1206.2 365.2 L1206.6 365.4 L1207.0 365.7 L1207.4 366.0 L1207.7 366.5 L1208.0 366.9 L1208.2 367.5 L1208.3 368.1 L1208.4 368.7 L1208.5 369.4 L1208.5 369.4 L1208.4 370.1 L1208.3 370.9 L1208.2 371.6 L1208.0 372.4 L1207.7 373.2 L1207.4 374.0 L1207.0 374.8 L1206.6 375.5 L1206.2 376.2 L1205.7 376.9 L1205.2 377.6 L1204.6 378.2 L1204.0 378.8 L1203.4 379.3 L1202.8 379.7 L1202.2 380.1 L1175.3 395.1 L1174.7 395.5 L1174.1 395.7 L1173.5 395.9 L1172.9 395.9 L1172.3 396.0 L1171.8 395.9 L1171.3 395.7 L1170.9 395.5 L1170.5 395.2 L1170.1 394.9 L1169.8 394.4 L1169.5 394.0 L1169.3 393.4 L1169.2 392.8 L1169.1 392.2 L1169.0 391.5 L1169.0 391.5 L1169.1 390.8 L1169.2 390.0 L1169.3 389.3 L1169.5 388.5 L1169.8 387.7 L1170.1 386.9 L1170.5 386.1 L1170.9 385.4 L1171.3 384.7 L1171.8 384.0 L1172.3 383.3 L1172.9 382.7 L1173.5 382.1 L1174.1 381.6 L1174.7 381.2 L1175.3 380.8Z"/>
<path class="tg" d="M1173.6 386.2 L1202.4 370.0 L1204.7 367.0"/>
<path class="f" d="M1275.5 323.7 L1276.1 323.3 L1276.7 323.1 L1277.3 322.9 L1277.8 322.9 L1278.4 322.8 L1278.9 322.9 L1279.4 323.1 L1279.9 323.3 L1280.3 323.6 L1280.7 323.9 L1281.0 324.4 L1281.2 324.8 L1281.4 325.4 L1281.6 326.0 L1281.7 326.6 L1281.7 327.3 L1281.7 327.3 L1281.7 328.0 L1281.6 328.8 L1281.4 329.5 L1281.2 330.3 L1281.0 331.1 L1280.7 331.9 L1280.3 332.7 L1279.9 333.4 L1279.4 334.1 L1278.9 334.8 L1278.4 335.5 L1277.8 336.1 L1277.3 336.7 L1276.7 337.2 L1276.1 337.6 L1275.5 338.0 L1248.5 353.0 L1247.9 353.4 L1247.3 353.6 L1246.7 353.8 L1246.2 353.8 L1245.6 353.9 L1245.1 353.8 L1244.6 353.6 L1244.1 353.4 L1243.7 353.1 L1243.3 352.8 L1243.0 352.3 L1242.8 351.9 L1242.6 351.3 L1242.4 350.7 L1242.3 350.1 L1242.3 349.4 L1242.3 349.4 L1242.3 348.7 L1242.4 347.9 L1242.6 347.2 L1242.8 346.4 L1243.0 345.6 L1243.3 344.8 L1243.7 344.0 L1244.1 343.3 L1244.6 342.6 L1245.1 341.9 L1245.6 341.2 L1246.2 340.6 L1246.7 340.0 L1247.3 339.5 L1247.9 339.1 L1248.5 338.7Z"/>
<path class="tg" d="M1246.8 344.1 L1275.6 327.9 L1277.9 324.9"/>
<path class="f" d="M780.7 616.7 L781.0 613.9 L782.0 611.2 L783.5 608.6 L785.6 606.1 L788.3 603.8 L791.4 601.8 L794.1 600.3 L796.7 598.8 L799.3 597.3 L801.9 595.8 L804.5 594.3 L807.1 592.8 L809.7 591.3 L812.3 589.8 L814.9 588.3 L817.5 586.8 L820.1 585.3 L822.8 583.8 L825.4 582.3 L828.0 580.8 L830.6 579.3 L833.2 577.8 L835.8 576.3 L838.4 574.8 L841.0 573.3 L843.6 571.8 L846.2 570.3 L848.8 568.8 L851.4 567.3 L854.0 565.8 L856.6 564.3 L859.3 562.8 L861.9 561.3 L864.5 559.8 L867.1 558.3 L869.7 556.8 L872.3 555.3 L874.9 553.8 L877.5 552.3 L880.1 550.8 L882.7 549.3 L885.3 547.8 L887.9 546.3 L890.5 544.8 L893.1 543.3 L895.8 541.8 L898.4 540.3 L901.0 538.8 L903.6 537.3 L906.2 535.8 L908.8 534.3 L911.4 532.8 L914.1 531.3 L917.6 529.5 L921.6 527.9 L925.9 526.7 L930.5 525.8 L935.2 525.3 L940.0 525.1 L944.8 525.3 L949.5 525.8 L954.1 526.7 L958.4 527.9 L962.4 529.5 L965.9 531.3 L968.6 532.8 L971.2 534.3 L973.8 535.8 L976.4 537.3 L979.0 538.8 L981.6 540.3 L984.2 541.8 L986.9 543.3 L989.5 544.8 L992.1 546.3 L994.7 547.8 L997.3 549.3 L999.9 550.8 L1002.5 552.3 L1005.1 553.8 L1007.7 555.3 L1010.3 556.8 L1012.9 558.3 L1015.5 559.8 L1018.1 561.3 L1020.7 562.8 L1023.4 564.3 L1026.0 565.8 L1028.6 567.3 L1031.2 568.8 L1033.8 570.3 L1036.4 571.8 L1039.0 573.3 L1041.6 574.8 L1044.2 576.3 L1046.8 577.8 L1049.4 579.3 L1052.0 580.8 L1054.6 582.3 L1057.2 583.8 L1059.9 585.3 L1062.5 586.8 L1065.1 588.3 L1067.7 589.8 L1070.3 591.3 L1072.9 592.8 L1075.5 594.3 L1078.1 595.8 L1080.7 597.3 L1083.3 598.8 L1085.9 600.3 L1088.6 601.8 L1091.7 603.8 L1094.4 606.1 L1096.5 608.6 L1098.0 611.2 L1099.0 613.9 L1099.3 616.7 L1099.3 619.7 L1099.3 622.8 L1099.3 625.8 L1099.3 628.8 L1099.3 631.8 L1099.3 634.9 L1099.3 637.9 L1099.2 640.9 L1099.2 643.9 L1099.2 647.0 L1099.2 650.0 L1099.2 653.0 L1099.2 656.0 L1099.2 659.1 L1099.2 662.1 L1099.2 665.1 L1099.2 668.1 L1099.2 671.2 L1099.2 674.2 L1099.2 677.2 L1099.2 680.3 L1099.2 683.3 L1099.1 686.3 L1099.1 689.3 L1099.1 692.4 L1099.1 695.4 L1099.1 698.4 L1099.1 701.4 L1099.1 704.5 L1099.1 707.5 L1098.9 711.5 L1097.8 716.5 L1095.5 721.3 L1092.3 725.7 L1090.2 728.1 L1087.9 730.2 L1085.3 732.3 L1082.6 734.2 L1079.7 736.0 L1077.0 737.5 L1074.4 739.0 L1071.8 740.5 L1069.2 742.0 L1066.5 743.6 L1063.9 745.1 L1061.3 746.6 L1058.7 748.1 L1056.1 749.6 L1053.4 751.1 L1050.8 752.6 L1048.2 754.1 L1045.6 755.6 L1043.0 757.1 L1040.3 758.6 L1037.7 760.1 L1035.1 761.6 L1032.5 763.1 L1029.9 764.6 L1027.2 766.1 L1024.6 767.7 L1022.0 769.2 L1019.4 770.7 L1016.8 772.2 L1014.1 773.7 L1011.5 775.2 L1008.9 776.7 L1006.3 778.2 L1003.7 779.7 L1001.0 781.2 L998.4 782.7 L995.8 784.2 L993.2 785.7 L990.6 787.2 L987.9 788.7 L985.3 790.2 L982.7 791.8 L980.1 793.3 L977.5 794.8 L974.8 796.3 L972.2 797.8 L969.6 799.3 L967.0 800.8 L964.4 802.3 L961.7 803.8 L959.1 805.3 L956.5 806.8 L954.2 808.1 L952.0 809.1 L949.6 809.9 L947.0 810.5 L944.3 810.9 L941.6 811.1 L938.8 811.1 L936.1 810.9 L933.4 810.5 L930.8 809.9 L928.4 809.1 L926.2 808.1 L923.9 806.8 L921.3 805.3 L918.7 803.8 L916.0 802.3 L913.4 800.8 L910.8 799.3 L908.2 797.8 L905.6 796.3 L902.9 794.8 L900.3 793.3 L897.7 791.8 L895.1 790.2 L892.5 788.7 L889.8 787.2 L887.2 785.7 L884.6 784.2 L882.0 782.7 L879.4 781.2 L876.7 779.7 L874.1 778.2 L871.5 776.7 L868.9 775.2 L866.3 773.7 L863.6 772.2 L861.0 770.7 L858.4 769.2 L855.8 767.7 L853.2 766.1 L850.5 764.6 L847.9 763.1 L845.3 761.6 L842.7 760.1 L840.1 758.6 L837.4 757.1 L834.8 755.6 L832.2 754.1 L829.6 752.6 L827.0 751.1 L824.3 749.6 L821.7 748.1 L819.1 746.6 L816.5 745.1 L813.9 743.6 L811.2 742.0 L808.6 740.5 L806.0 739.0 L803.4 737.5 L800.7 736.0 L797.8 734.2 L795.1 732.3 L792.5 730.2 L790.2 728.1 L788.1 725.7 L784.9 721.3 L782.6 716.5 L781.5 711.5 L781.3 707.5 L781.3 704.5 L781.3 701.4 L781.2 698.4 L781.2 695.4 L781.2 692.4 L781.2 689.3 L781.2 686.3 L781.1 683.3 L781.1 680.3 L781.1 677.2 L781.1 674.2 L781.1 671.2 L781.0 668.1 L781.0 665.1 L781.0 662.1 L781.0 659.1 L781.0 656.0 L780.9 653.0 L780.9 650.0 L780.9 647.0 L780.9 643.9 L780.9 640.9 L780.8 637.9 L780.8 634.9 L780.8 631.8 L780.8 628.8 L780.8 625.8 L780.7 622.8 L780.7 619.7Z"/>
<path d="M789.9 617.6 L790.0 616.4 L790.2 615.3 L790.5 614.1 L791.0 613.0 L791.6 611.8 L792.3 610.8 L793.1 609.7 L794.1 608.7 L795.1 607.7 L796.3 606.7 L797.6 605.8 L799.0 605.0 L918.5 536.2 L920.0 535.4 L921.6 534.7 L923.3 534.0 L925.0 533.4 L926.8 532.8 L928.6 532.3 L930.5 531.9 L932.5 531.6 L934.5 531.3 L936.5 531.1 L938.5 531.0 L940.5 531.0 L942.6 531.0 L944.6 531.1 L946.6 531.3 L948.6 531.6 L950.6 531.9 L952.5 532.3 L954.3 532.8 L956.1 533.4 L957.8 534.0 L959.5 534.7 L961.1 535.4 L962.5 536.2 L1082.1 605.0 L1083.5 605.8 L1084.8 606.7 L1086.0 607.7 L1087.0 608.7 L1088.0 609.7 L1088.8 610.8 L1089.5 611.8 L1090.1 613.0 L1090.6 614.1 L1090.9 615.3 L1091.1 616.4 L1091.2 617.6 L1091.1 618.8 L1090.9 619.9 L1090.6 621.1 L1090.1 622.2 L1089.5 623.4 L1088.8 624.4 L1088.0 625.5 L1087.0 626.5 L1086.0 627.5 L1084.8 628.5 L1083.5 629.4 L1082.1 630.2 L962.5 699.0 L961.1 699.8 L959.5 700.5 L957.8 701.2 L956.1 701.8 L954.3 702.4 L952.5 702.9 L950.6 703.3 L948.6 703.6 L946.6 703.9 L944.6 704.1 L942.6 704.2 L940.5 704.2 L938.5 704.2 L936.5 704.1 L934.5 703.9 L932.5 703.6 L930.5 703.3 L928.6 702.9 L926.8 702.4 L925.0 701.8 L923.3 701.2 L921.6 700.5 L920.0 699.8 L918.5 699.0 L799.0 630.2 L797.6 629.4 L796.3 628.5 L795.1 627.5 L794.1 626.5 L793.1 625.5 L792.3 624.4 L791.6 623.4 L791.0 622.2 L790.5 621.1 L790.2 619.9 L790.0 618.8 L789.9 617.6Z"/>
<path d="M1099.3 617.9 L1099.2 619.3 L1099.0 620.7 L1098.6 622.0 L1098.0 623.4 L1097.3 624.7 L1096.5 626.0 L1095.5 627.3 L1094.4 628.5 L1093.1 629.6 L1091.7 630.8 L1090.2 631.8 L1088.5 632.9 L966.0 703.3 L964.2 704.3 L962.4 705.1 L960.4 705.9 L958.4 706.7 L956.3 707.3 L954.1 707.9 L951.8 708.4 L949.5 708.8 L947.2 709.1 L944.8 709.3 L942.4 709.5 L940.0 709.5 L937.6 709.5 L935.2 709.3 L932.8 709.1 L930.5 708.8 L928.2 708.4 L925.9 707.9 L923.7 707.3 L921.6 706.7 L919.6 705.9 L917.6 705.1 L915.8 704.3 L914.0 703.3 L791.5 632.9 L789.8 631.8 L788.3 630.8 L786.9 629.6 L785.6 628.5 L784.5 627.3 L783.5 626.0 L782.7 624.7 L782.0 623.4 L781.4 622.0 L781.0 620.7 L780.8 619.3 L780.7 617.9"/>
<path class="f ol" d="M866.3 702.1 L868.0 703.2 L869.7 704.4 L871.4 705.9 L873.0 707.4 L874.6 709.2 L876.0 711.0 L877.4 713.0 L878.7 715.0 L879.9 717.1 L880.9 719.3 L881.8 721.5 L882.5 723.6 L883.1 725.8 L883.5 727.9 L883.8 730.0 L883.8 732.0 L883.8 732.3 L883.8 734.2 L883.5 736.0 L883.1 737.6 L882.5 739.1 L881.8 740.4 L880.9 741.6 L879.9 742.6 L878.7 743.4 L877.4 743.9 L876.0 744.3 L874.6 744.4 L873.0 744.4 L871.4 744.1 L869.7 743.6 L868.0 742.9 L866.3 742.0 L840.2 727.0 L838.5 725.9 L836.8 724.7 L835.1 723.2 L833.5 721.7 L831.9 719.9 L830.5 718.1 L829.1 716.1 L827.8 714.1 L826.6 712.0 L825.6 709.8 L824.7 707.6 L824.0 705.5 L823.4 703.3 L823.0 701.2 L822.7 699.1 L822.7 697.1 L822.7 696.8 L822.7 694.9 L823.0 693.1 L823.4 691.5 L824.0 690.0 L824.7 688.7 L825.6 687.5 L826.6 686.5 L827.8 685.7 L829.1 685.2 L830.5 684.8 L831.9 684.7 L833.5 684.7 L835.1 685.0 L836.8 685.5 L838.5 686.2 L840.2 687.1Z"/>
<path class="lt" d="M866.0 704.7 L867.5 705.7 L869.0 706.8 L870.4 708.0 L871.8 709.4 L873.2 710.9 L874.4 712.5 L875.6 714.2 L876.8 715.9 L877.8 717.8 L878.6 719.6 L879.4 721.5 L880.1 723.4 L880.6 725.3 L880.9 727.1 L881.1 728.9 L881.2 730.6 L881.2 730.6 L881.1 732.3 L880.9 733.8 L880.6 735.2 L880.1 736.5 L879.4 737.7 L878.6 738.7 L877.8 739.5 L876.8 740.2 L875.6 740.7 L874.4 741.0 L873.2 741.1 L871.8 741.1 L870.4 740.8 L869.0 740.4 L867.5 739.8 L866.0 739.0 L840.5 724.4 L839.0 723.4 L837.5 722.3 L836.1 721.1 L834.7 719.7 L833.3 718.2 L832.1 716.6 L830.9 714.9 L829.7 713.2 L828.7 711.3 L827.9 709.5 L827.1 707.6 L826.4 705.7 L825.9 703.8 L825.6 702.0 L825.4 700.2 L825.3 698.5 L825.3 698.5 L825.4 696.8 L825.6 695.3 L825.9 693.9 L826.4 692.6 L827.1 691.4 L827.9 690.4 L828.7 689.6 L829.7 688.9 L830.9 688.4 L832.1 688.1 L833.3 688.0 L834.7 688.0 L836.1 688.3 L837.5 688.7 L839.0 689.3 L840.5 690.1Z"/>
<path class="lt" d="M865.3 708.7 L866.5 709.4 L867.6 710.3 L868.7 711.2 L869.8 712.3 L870.8 713.4 L871.8 714.7 L872.8 716.0 L873.6 717.3 L874.4 718.7 L875.1 720.2 L875.7 721.6 L876.1 723.1 L876.5 724.5 L876.8 725.9 L877.0 727.3 L877.0 728.6 L877.0 728.6 L877.0 729.9 L876.8 731.1 L876.5 732.2 L876.1 733.2 L875.7 734.1 L875.1 734.8 L874.4 735.5 L873.6 736.0 L872.8 736.4 L871.8 736.6 L870.8 736.7 L869.8 736.7 L868.7 736.5 L867.6 736.2 L866.5 735.7 L865.3 735.1 L841.9 721.6 L840.8 720.9 L839.6 720.1 L838.5 719.1 L837.4 718.1 L836.4 716.9 L835.4 715.7 L834.5 714.4 L833.6 713.0 L832.9 711.6 L832.2 710.2 L831.6 708.7 L831.1 707.3 L830.7 705.8 L830.4 704.4 L830.2 703.0 L830.2 701.7 L830.2 701.7 L830.2 700.4 L830.4 699.3 L830.7 698.2 L831.1 697.2 L831.6 696.3 L832.2 695.5 L832.9 694.9 L833.6 694.3 L834.5 694.0 L835.4 693.7 L836.4 693.6 L837.4 693.7 L838.5 693.9 L839.6 694.2 L840.8 694.6 L841.9 695.2Z"/>
<path class="f" d="M185.8 166.7 L192.5 163.6 L280.0 210.5 L290.8 218.3 L279.5 222.0 Z" style="stroke:none"/>
<path class="dk" d="M185.8 166.7 L279.5 222.0 L290.8 218.3"/>
<path class="gr" d="M192.5 163.6 L280.0 210.5 L290.8 218.3"/>
<path d="M180.4 170.0 C180.4 164.0 184.0 161.5 187.0 161.5 C190.0 161.5 192.0 162.5 192.5 163.6"/>
<path class="f" d="M241.3 135.2 L248.0 132.1 L337.0 182.5 L345.8 186.7 L336.7 190.8 Z" style="stroke:none"/>
<path class="dk" d="M241.3 135.2 L336.7 190.8 L345.8 186.7"/>
<path class="gr" d="M248.0 132.1 L337.0 182.5 L345.8 186.7"/>
<path d="M235.9 138.5 C235.9 132.5 239.5 130.0 242.5 130.0 C245.5 130.0 247.5 131.0 248.0 132.1"/>
<path class="f" d="M163.0 628.8 A3.4 3.4 0 0 1 167.2 622.9 L248.6 668.9 L239.6 672.4 Z"/>
<circle cx="166.2" cy="626.3" r="1.6" style="stroke-width:1"/>
<path class="f" d="M239.6 672.4 V698.0 L247.2 700.8 L253.1 696.0 V677.0 C253.1 673.0 251.0 670.5 248.6 668.9Z"/>
<path class="th" d="M249.3 675.0 V699.0"/>
<path class="th" d="M166.0 625.5 L244.0 670.5"/>
<path class="f" d="M208.0 603.8 A3.4 3.4 0 0 1 212.2 597.9 L293.6 643.9 L284.6 647.4 Z"/>
<circle cx="211.2" cy="601.3" r="1.6" style="stroke-width:1"/>
<path class="f" d="M284.6 647.4 V673.0 L292.2 675.8 L298.1 671.0 V652.0 C298.1 648.0 296.0 645.5 293.6 643.9Z"/>
<path class="th" d="M294.3 650.0 V674.0"/>
<path class="th" d="M211.0 600.5 L289.0 645.5"/>
<path style="fill:#f2f2f2;stroke:none" d="M946.2 166 L954.8 172.2 L958.1 174.4 L958.1 159.6 Z"/>
<path style="fill:#f2f2f2;stroke:none" d="M1008.5 129.8 L1023.4 121.5 L1023.4 138 L1018.5 135.9 Z"/>
<path class="f" d="M958.1 160.4 L1008.5 130.7 L1018.5 135.9 L1023.4 140 L1023.4 198 L966.3 166.3 L966.3 176.3 L958.1 174.4 Z" style="stroke:none"/>
<path d="M946.7 167 L954.8 172.2 L958.1 174.4"/>
<path d="M958.1 174.4 V160.4 L1008.5 130.7 L1023.4 138.6"/>
<path d="M958.1 160.4 L966.3 165.2 L1017 135.6"/>
<path d="M966.3 165.2 V176.3 L958.1 174.4"/>
<path d="M966.3 166.3 L1023.8 198.1"/>
<path d="M958.8 175.5 L1050 225"/>
<path d="M1062 147.5 L1086.7 161"/>
<path d="M1062 160 L1113 188"/>
<path class="f" d="M1054.7 134.5 L1058.5 132.5 Q1062.0 133.5 1062.0 137.5 V224.1 L1054.7 227.6 Z"/>
<path class="f" d="M1023.4 124.0 Q1023.4 118.5 1028.5 117.8 L1058.5 132.0 Q1061.0 133.5 1062.0 136.0 L1054.7 134.0 Z"/>
<path class="f" d="M1023.4 137.5 V125.5 Q1020.8 124.0 1020.8 128.0 L1020.8 137.0 V137.5 Z"/>
<path class="f" d="M1023.4 210.6 V125.0 Q1023.4 120.5 1027.5 121.5 L1051.0 132.0 Q1054.7 133.8 1054.7 138.0 V227.6 Z"/>
<ellipse class="f" cx="1038.7" cy="148.4" rx="8.3" ry="11" transform="rotate(-18 1038.7 148.4)"/>
<ellipse cx="1039.7" cy="148.9" rx="5.8" ry="8.5" transform="rotate(-18 1039.7 148.9)"/>
<path class="dk" d="M1035.7 141.4 Q1032.7 150.4 1039.7 157.4"/>
<path class="f" d="M1117.4 98.5 L1121.2 96.5 Q1124.7 97.5 1124.7 101.5 V188.1 L1117.4 191.6 Z"/>
<path class="f" d="M1086.1 88.0 Q1086.1 82.5 1091.2 81.8 L1121.2 96.0 Q1123.7 97.5 1124.7 100.0 L1117.4 98.0 Z"/>
<path class="f" d="M1086.1 101.5 V89.5 Q1083.5 88.0 1083.5 92.0 L1083.5 101.0 V101.5 Z"/>
<path class="f" d="M1086.1 173.6 V89.0 Q1086.1 84.5 1090.2 85.5 L1113.7 96.0 Q1117.4 97.8 1117.4 102.0 V191.6 Z"/>
<ellipse class="f" cx="1101.4" cy="112.4" rx="8.3" ry="11" transform="rotate(-18 1101.4 112.4)"/>
<ellipse cx="1102.4" cy="112.9" rx="5.8" ry="8.5" transform="rotate(-18 1102.4 112.9)"/>
<path class="dk" d="M1098.4 105.4 Q1095.4 114.4 1102.4 121.4"/>
<path class="f" d="M925.3 640.0 L953.6 647.0 L1008.3 678.0 L1000.5 683.5 Z"/>
<path class="f" d="M1000.5 683.5 V708.7 L1008.3 704.7 V678.0 Z"/>
<path class="f" d="M948.3 581.8 L950.8 582.6 Q953.6 583.8 953.6 586.5 V647.0 L948.3 650.0 Z"/>
<path class="f" d="M925.3 640.0 V576.5 Q925.5 572.3 929.5 572.6 L948.3 581.8 V650.0 Z"/>
<ellipse cx="936.7" cy="595.8" rx="6.8" ry="8" transform="rotate(-20 936.7 595.8)"/>
<ellipse class="th" cx="936.7" cy="595.8" rx="4.5" ry="5.8" transform="rotate(-20 936.7 595.8)"/>
<path class="f" d="M970.7 613.3 L999.0 620.3 L1053.7 651.3 L1045.9 656.8 Z"/>
<path class="f" d="M1045.9 656.8 V682.8 L1053.7 678.8 V651.3 Z"/>
<path class="f" d="M993.7 555.1 L996.2 555.9 Q999.0 557.1 999.0 559.8 V620.3 L993.7 623.3 Z"/>
<path class="f" d="M970.7 613.3 V549.8 Q970.9 545.6 974.9 545.9 L993.7 555.1 V623.3 Z"/>
<ellipse cx="982.1" cy="569.1" rx="6.8" ry="8" transform="rotate(-20 982.1 569.1)"/>
<ellipse class="th" cx="982.1" cy="569.1" rx="4.5" ry="5.8" transform="rotate(-20 982.1 569.1)"/>
<g class="g1">
<path class="f" d="M359 539.5H657.5L656.8 678C656.8 698 644 709 625 709H392C373 709 360.3 698 360.3 678Z"/>
<rect x="437" y="609.8" width="52" height="16.5" rx="8.2"/>
<rect x="527" y="609.8" width="52" height="16.5" rx="8.2"/>
</g>
<g class="g2">
<path class="f" d="M70 880.5H301.5V986C301.5 1003 290 1012 273 1012H99C81 1012 70 1003 70 986Z"/>
<path class="f" d="M70 880.5H63.5Q59.7 880.5 59.7 884.5V907Q59.7 911 63.5 911H70"/>
<path style="stroke:#ccc;stroke-width:1" d="M64.8 882V910"/>
<rect x="144" y="909.6" width="83.6" height="48.4" rx="24" style="stroke:#707070"/>
<rect class="lt" x="150.5" y="915.5" width="70.6" height="36.6" rx="18.3"/>
</g>
<g class="g2">
<rect class="f" x="391.7" y="784.4" width="233.3" height="233.4" rx="30" style="stroke:#6a6a6a"/>
<rect x="399.2" y="792.8" width="218" height="216.6" rx="25" style="stroke:#4a4a4a"/>
<text x="455.8" y="847.1" font-size="14.5" class="ws" textLength="103.8" lengthAdjust="spacingAndGlyphs">PATENTLY APPLE</text>
<path class="f" d="M472.8 887.8V789C473.4 781 475.8 775.3 478.1 775.3C480.3 775.3 482.7 781 483.3 789V887.8Z"/>
<path style="stroke:#c8c8c8;stroke-width:0.9" d="M475.4 792V885M480.8 792V885"/>
<path class="f" d="M532.5 887.8V789C533.1 781 535.5 775.3 537.8 775.3C540.0 775.3 542.4 781 543.0 789V887.8Z"/>
<path style="stroke:#c8c8c8;stroke-width:0.9" d="M535.1 792V885M540.5 792V885"/>
</g>
<g class="g2">
<path class="f" d="M1120.3 608H1419.3L1418.6 744C1418.6 764 1407 777 1388 777H1152C1133 777 1121.4 764 1121.4 744Z"/>
<path class="f" d="M1225.9 608V516C1226.4 512 1228.9 509.5 1231.1 509.5C1233.2 509.5 1235.7 512 1236.2 516V608"/>
<path class="f" d="M1302.9 608V516C1303.4 512 1305.9 509.5 1308.1 509.5C1310.2 509.5 1312.7 512 1313.2 516V608"/>
<rect x="1199.2" y="677.7" width="51.3" height="17.2" rx="8.6"/>
<rect x="1288.4" y="677.7" width="51.5" height="17.2" rx="8.6"/>
</g>
<g class="g3">
<path class="f" d="M856.1 920.6V869Q856.1 865.8 859.1 865.8H874.5Q877.5 865.8 877.5 869V920.6"/>
<circle cx="866.6" cy="881.1" r="6" style="stroke:#666"/>
<path class="f" d="M804.4 920.6H971.1L970.1 994C969.6 1008 962.1 1014.4 948.1 1014.4H827.4C813.4 1014.4 805.9 1008 805.4 994Z"/>
<rect x="857.5" y="941.4" width="60.3" height="34.7" rx="17"/>
<rect class="lt" x="861.5" y="945.4" width="52.3" height="26.7" rx="13" style="stroke:#ddd"/>
<path class="f" d="M1103.3 920.6V869Q1103.3 865.8 1106.3 865.8H1121.7Q1124.7 865.8 1124.7 869V920.6"/>
<circle cx="1113.8" cy="881.1" r="6" style="stroke:#666"/>
<path class="f" d="M1009.4 920.6H1175.6L1174.6 994C1174.1 1008 1166.6 1014.4 1152.6 1014.4H1032.4C1018.4 1014.4 1010.9 1008 1010.4 994Z"/>
<rect x="1063.1" y="941.4" width="60.3" height="34.7" rx="17"/>
<rect class="lt" x="1067.1" y="945.4" width="52.3" height="26.7" rx="13" style="stroke:#ddd"/>
<rect class="f" x="1209.6" y="849.6" width="165.3" height="167.8" rx="25"/>
<rect x="1215.1" y="855.6" width="154.9" height="156.5" rx="20"/>
<rect class="f" x="1267.1" y="849.6" width="7.9" height="73.7"/>
<path style="stroke:#555;stroke-width:1.6" d="M1267.1 888.3V923.3M1275.0 888.3V923.3M1267.1 888.3H1275.0"/>
<path style="stroke:#aaa;stroke-width:1" d="M1269.3 890V921M1272.8 890V921"/>
<rect class="f" x="1309.6" y="849.6" width="7.9" height="73.7"/>
<path style="stroke:#555;stroke-width:1.6" d="M1309.6 888.3V923.3M1317.5 888.3V923.3M1309.6 888.3H1317.5"/>
<path style="stroke:#aaa;stroke-width:1" d="M1311.8 890V921M1315.3 890V921"/>
</g>
<text x="57.0" y="715.7" font-size="12.5" class="ws" textLength="101.3" lengthAdjust="spacingAndGlyphs">PATENTLY APPLE</text>
<text x="80.6" y="241.2" font-size="67.0" class="wb" textLength="480.0" lengthAdjust="spacingAndGlyphs">Patently Apple</text>
<text x="865.0" y="239.4" font-size="67.0" class="wy" textLength="480.0" lengthAdjust="spacingAndGlyphs">Patently Apple</text>
<text x="947.5" y="713.8" font-size="40.0" class="wb" textLength="320.0" lengthAdjust="spacingAndGlyphs">Patently Apple</text>
<text x="114.6" y="37.2" font-size="22.0" class="h" textLength="466.7" lengthAdjust="spacingAndGlyphs">35W Dual USB-C Port Compact Power Adapter</text>
<text x="71.0" y="62.4" font-size="13.5" class="h2" textLength="549.0" lengthAdjust="spacingAndGlyphs">Hong Kong Patent and Trademark Office Design Patent #2220804.5M002 for &#8220;Adapter&#8221;</text>
<text x="864.6" y="30.8" font-size="21.5" class="h" textLength="466.7" lengthAdjust="spacingAndGlyphs">35W Dual USB-C Port Compact Power Adapter</text>
<text x="821.9" y="55.4" font-size="13.5" class="h2" textLength="546.9" lengthAdjust="spacingAndGlyphs">Hong Kong Patent and Trademark Office Design Patent #2220804.5M001 for &#8220;Adapter&#8221;</text>
<text x="409.9" y="447.6" font-size="13.0" class="l" textLength="112.4" lengthAdjust="spacingAndGlyphs">Perspective View</text>
<text x="120.7" y="498.2" font-size="13.0" class="l" textLength="123.8" lengthAdjust="spacingAndGlyphs">Perspective View 2</text>
<text x="480.5" y="734.2" font-size="13.0" class="l" textLength="67.3" lengthAdjust="spacingAndGlyphs">Front View</text>
<text x="149.9" y="862.0" font-size="13.0" class="l" textLength="57.7" lengthAdjust="spacingAndGlyphs">Left View</text>
<text x="478.3" y="1043.7" font-size="13.0" class="l" textLength="69.5" lengthAdjust="spacingAndGlyphs">Page View</text>
<text x="1224.2" y="123.7" font-size="13.0" class="l" textLength="110.8" lengthAdjust="spacingAndGlyphs">Perspective View</text>
<text x="886.0" y="508.2" font-size="13.0" class="l" textLength="122.3" lengthAdjust="spacingAndGlyphs">Perspective View 2</text>
<text x="1234.8" y="806.6" font-size="13.0" class="l" textLength="68.1" lengthAdjust="spacingAndGlyphs">Front View</text>
<text x="859.4" y="1036.2" font-size="13.0" class="l" textLength="58.9" lengthAdjust="spacingAndGlyphs">Left View</text>
<text x="1061.7" y="1036.2" font-size="13.0" class="l" textLength="67.7" lengthAdjust="spacingAndGlyphs">Right View</text>
<text x="1265.6" y="1036.8" font-size="13.0" class="l" textLength="60.7" lengthAdjust="spacingAndGlyphs">Top View</text>
</svg>
</body></html>
